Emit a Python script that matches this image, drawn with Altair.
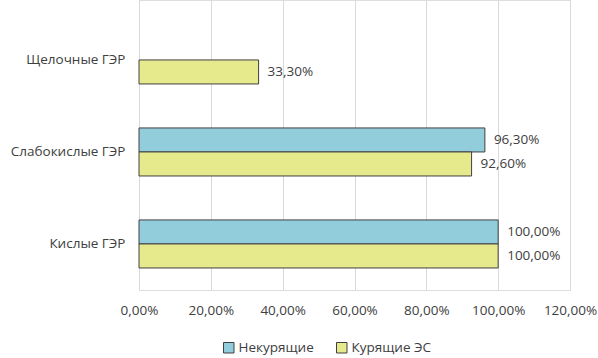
import altair as alt
import pandas as pd

categories = ["Щелочные ГЭР", "Слабокислые ГЭР", "Кислые ГЭР"]
series = ["Некурящие", "Курящие ЭС"]
nonsmokers = [None, 0.963, 1.0]
smokers = [0.333, 0.926, 1.0]
colors = ["#92CDDC", "#E6EA8C"]

rows = []
for c, a, b in zip(categories, nonsmokers, smokers):
    if a is not None:
        rows.append({"cat": c, "series": series[0], "value": a})
    if b is not None:
        rows.append({"cat": c, "series": series[1], "value": b})
df = pd.DataFrame(rows)

FONT = "Open Sans"
TXT = "#404040"
FS = 13.5

y = alt.Y("cat:N", sort=categories, title=None,
          scale=alt.Scale(paddingInner=0.478, paddingOuter=0.315, align=0.62),
          axis=alt.Axis(domain=False, ticks=False, labelPadding=14, labelFontSize=FS,
                        labelColor=TXT, labelFont=FONT, grid=False))
yoff = alt.YOffset("series:N", sort=series, scale=alt.Scale(paddingInner=0, paddingOuter=0))
x = alt.X("value:Q", title=None,
          scale=alt.Scale(domain=[0, 1.2], nice=False),
          axis=alt.Axis(values=[0, 0.2, 0.4, 0.6, 0.8, 1.0, 1.2], format=".2%",
                        domain=False, ticks=False, grid=True, gridColor="#D9D9D9",
                        labelOverlap=False, labelFlush=False,
                        labelPadding=13, labelFontSize=FS, labelColor=TXT, labelFont=FONT))

bars = alt.Chart(df).mark_bar(stroke="#404040", strokeWidth=1).encode(
    x=x, y=y, yOffset=yoff,
    color=alt.Color("series:N", sort=series,
                    scale=alt.Scale(domain=series, range=colors),
                    legend=alt.Legend(title=None, orient="none", direction="horizontal",
                                      legendX=83, legendY=341, symbolType="square",
                                      symbolSize=110, symbolStrokeColor="#404040",
                                      symbolStrokeWidth=1, labelFontSize=FS,
                                      labelFont=FONT, labelColor=TXT, columnPadding=20,
                                      labelOffset=3)),
)

labels = alt.Chart(df).mark_text(align="left", baseline="middle", dx=9,
                                 fontSize=FS, font=FONT, color=TXT).encode(
    x="value:Q", y=alt.Y("cat:N", sort=categories), yOffset=alt.YOffset("series:N", sort=series),
    text=alt.Text("value:Q", format=".2%"),
)

chart = (bars + labels).properties(
    width=431, height=290,
    autosize=alt.AutoSizeParams(type="none"),
    padding={"left": 139, "top": 0, "right": 28, "bottom": 68},
).configure_view(stroke=None).configure(background="white")

chart.save("out.html", embed_options={
    "renderer": "svg", "actions": False,
    "formatLocale": {"decimal": ",", "thousands": " ", "grouping": [3], "currency": ["", " ₽"]},
})
